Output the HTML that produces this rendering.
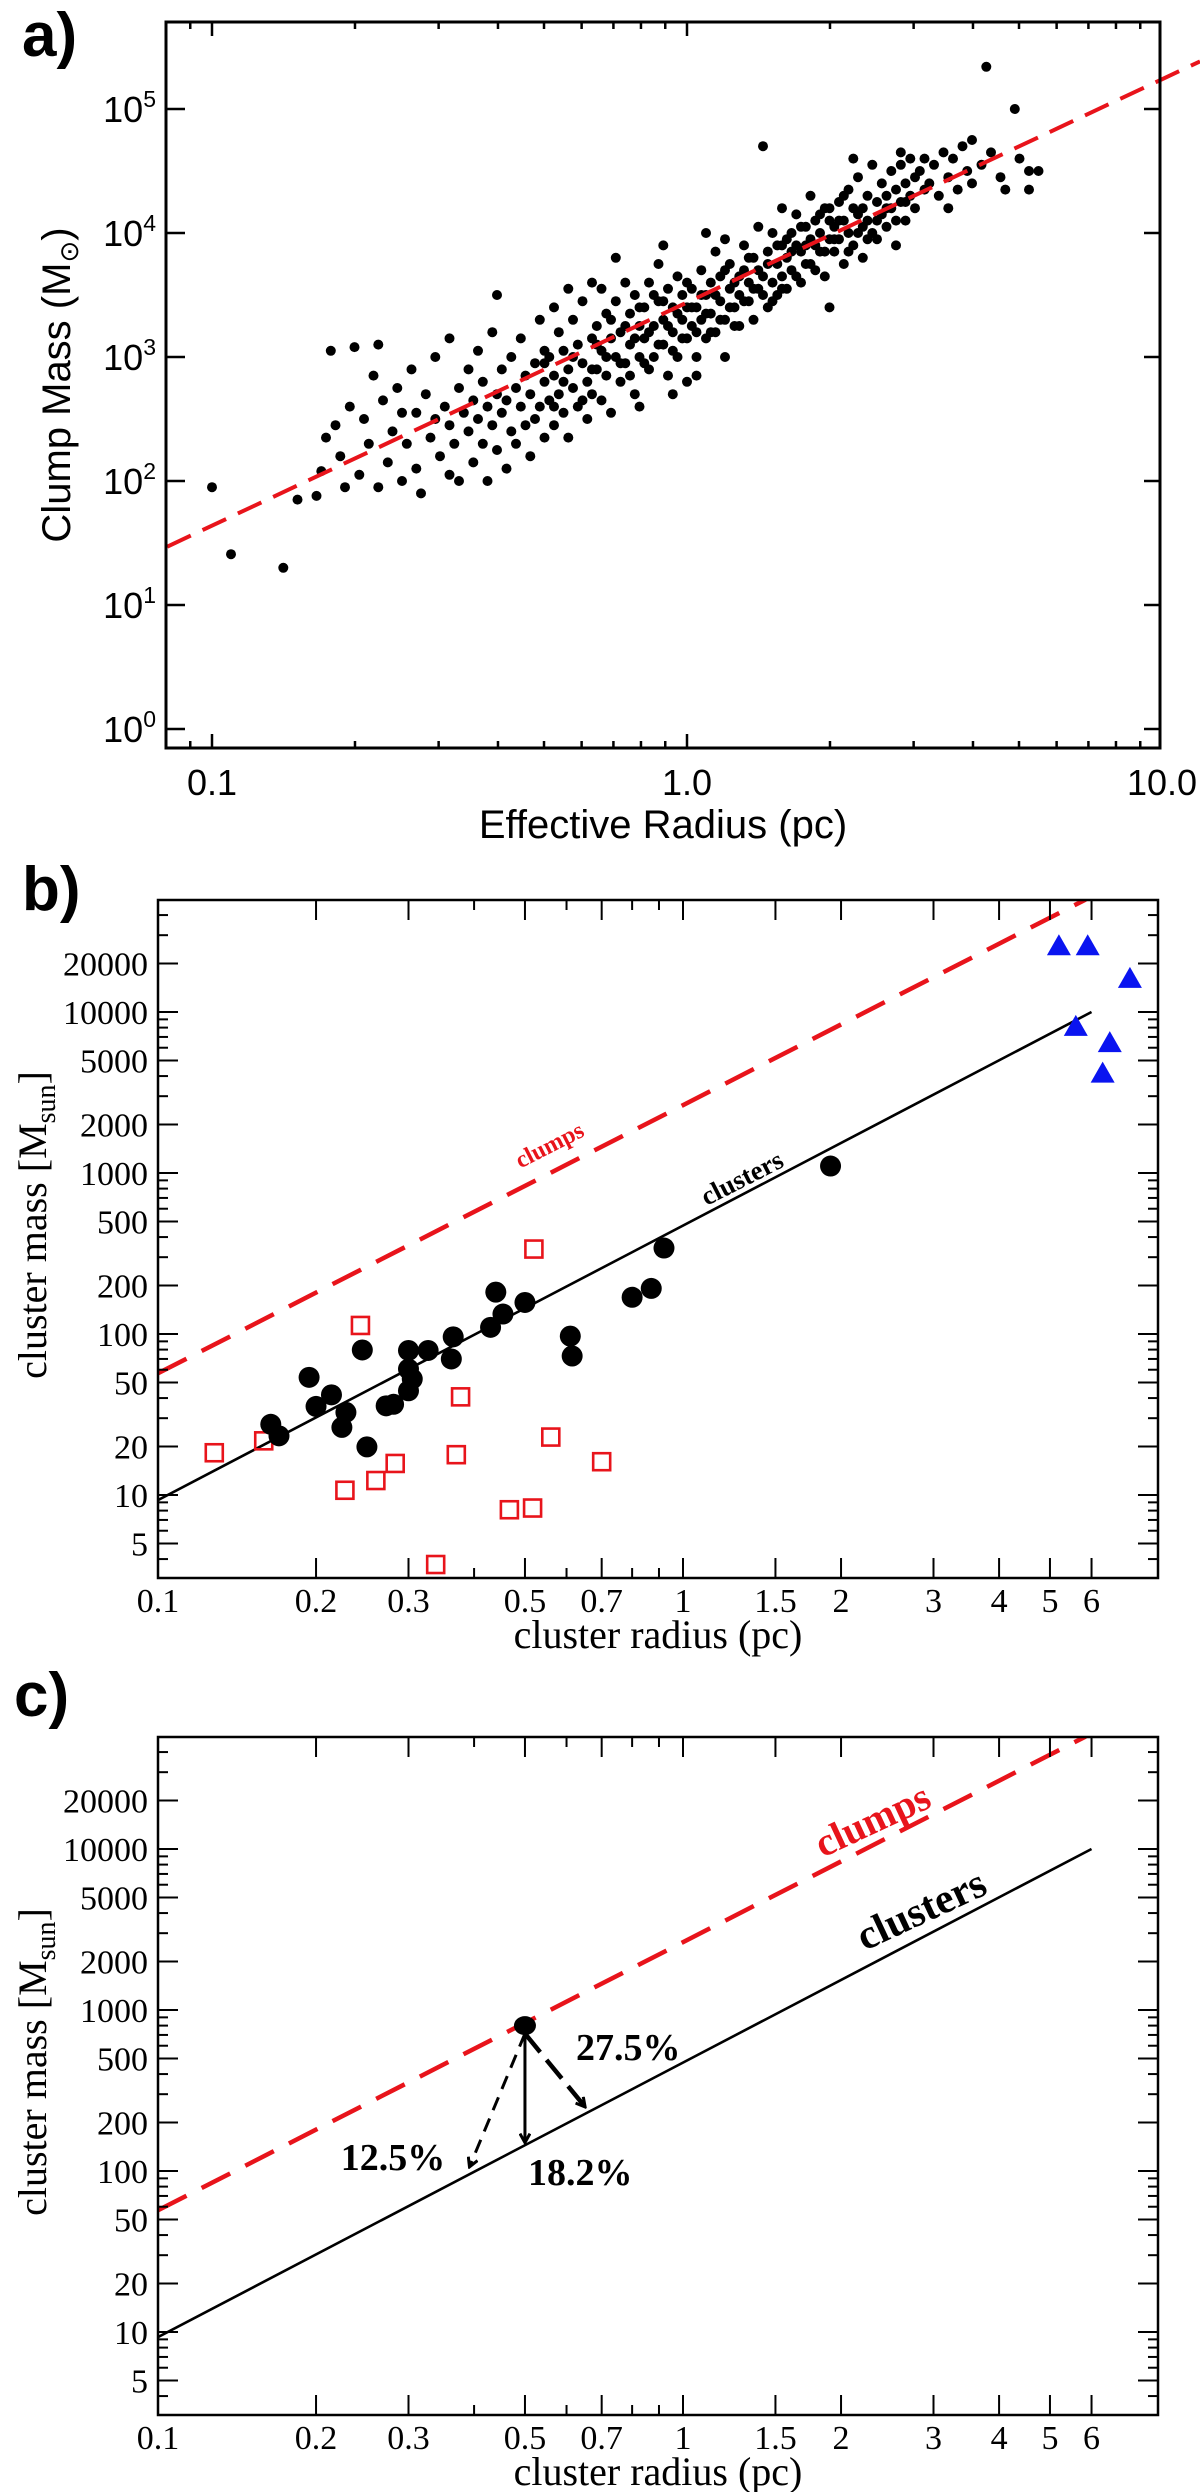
<!DOCTYPE html>
<html><head><meta charset="utf-8"><title>Clump and cluster mass-radius</title>
<style>
html,body{margin:0;padding:0;background:#fff;}
svg{display:block;}
</style></head>
<body>
<svg id="fig" width="1200" height="2492" viewBox="0 0 1200 2492">
  <defs>
    <clipPath id="clipB"><rect x="158" y="900" width="1000" height="678"/></clipPath>
    <clipPath id="clipC"><rect x="158" y="1737" width="1000" height="678"/></clipPath>
    <marker id="headSolid" markerWidth="12" markerHeight="12" refX="10" refY="6" orient="auto" markerUnits="userSpaceOnUse">
      <path d="M1,1 L10,6 L1,11" fill="none" stroke="#000" stroke-width="3"/>
    </marker>
  </defs>
  <rect x="0" y="0" width="1200" height="2492" fill="#fff"/>
</svg>
<script>
// ---------- Panel a data (log10 radius [pc], log10 mass [Msun]) ----------
const clumpLogR = [-1.0,-0.96,-0.85,-0.82,-0.78,-0.77,-0.76,-0.75,-0.74,-0.73,-0.72,-0.71,-0.7,-0.69,-0.68,-0.67,-0.66,-0.65,-0.65,-0.64,-0.63,-0.62,-0.61,-0.6,-0.6,-0.59,-0.58,-0.57,-0.57,-0.56,-0.55,-0.54,-0.53,-0.53,-0.52,-0.51,-0.5,-0.5,-0.5,-0.49,-0.48,-0.48,-0.47,-0.46,-0.46,-0.45,-0.45,-0.44,-0.44,-0.43,-0.43,-0.42,-0.42,-0.41,-0.41,-0.4,-0.4,-0.4,-0.39,-0.39,-0.38,-0.38,-0.37,-0.37,-0.36,-0.36,-0.35,-0.35,-0.34,-0.34,-0.33,-0.33,-0.32,-0.32,-0.31,-0.31,-0.3,-0.3,-0.3,-0.29,-0.29,-0.28,-0.28,-0.27,-0.27,-0.26,-0.26,-0.25,-0.25,-0.24,-0.24,-0.23,-0.23,-0.22,-0.22,-0.21,-0.21,-0.2,-0.2,-0.2,-0.25,-0.28,-0.19,-0.19,-0.18,-0.18,-0.17,-0.17,-0.16,-0.16,-0.15,-0.15,-0.14,-0.14,-0.13,-0.13,-0.12,-0.12,-0.11,-0.11,-0.1,-0.1,-0.1,-0.15,-0.18,-0.09,-0.09,-0.08,-0.08,-0.07,-0.07,-0.06,-0.06,-0.05,-0.05,-0.04,-0.04,-0.03,-0.03,-0.02,-0.02,-0.01,-0.01,0,0,0,-0.05,-0.03,0.01,0.01,0.02,0.02,0.03,0.03,0.04,0.04,0.05,0.05,0.06,0.06,0.07,0.07,0.08,0.08,0.09,0.09,0.1,0.1,0.04,0.08,0.02,0.11,0.11,0.12,0.12,0.13,0.13,0.14,0.14,0.15,0.15,0.16,0.16,0.17,0.17,0.18,0.18,0.19,0.19,0.2,0.2,0.2,0.21,0.21,0.22,0.22,0.23,0.23,0.24,0.24,0.25,0.25,0.26,0.26,0.27,0.27,0.28,0.28,0.29,0.29,0.3,0.3,0.3,0.31,0.31,0.32,0.32,0.33,0.33,0.34,0.34,0.35,0.35,0.36,0.36,0.37,0.37,0.38,0.38,0.39,0.39,0.4,0.4,0.35,0.41,0.41,0.42,0.42,0.43,0.43,0.44,0.44,0.45,0.45,0.46,0.46,0.47,0.47,0.48,0.48,0.49,0.5,0.5,0.45,0.51,0.52,0.53,0.54,0.55,0.56,0.57,0.58,0.59,0.6,0.6,0.55,0.62,0.63,0.64,0.66,0.67,0.69,0.7,0.72,0.72,0.74,
-0.3,-0.28,-0.26,-0.24,-0.22,-0.2,-0.19,-0.17,-0.16,-0.14,-0.13,-0.12,-0.11,-0.1,-0.09,-0.08,-0.07,-0.06,-0.05,-0.04,-0.03,-0.02,-0.01,0,0.01,0.02,0.03,0.04,0.05,0.06,0.07,0.08,0.09,0.1,0.11,0.12,0.13,0.14,0.15,0.16,0.17,0.18,0.19,0.2,0.21,0.22,0.23,0.24,0.25,0.26,0.27,0.28,0.29,0.3,0.31,0.32,0.33,0.34,0.36,0.37,0.38,0.4,0.42,0.44,0.46];
const clumpLogM = [1.95,1.41,1.30,1.85,1.88,2.08,2.35,3.05,2.45,2.2,1.95,2.6,3.08,2.05,2.5,2.3,2.85,1.95,3.1,2.65,2.15,2.4,2.75,2.0,2.55,2.3,2.9,2.1,2.55,1.9,2.7,2.35,2.5,3.0,2.2,2.6,2.45,2.05,3.15,2.3,2.75,2.0,2.55,2.9,2.4,2.15,2.65,3.05,2.5,2.3,2.8,2.0,2.6,2.45,3.2,2.7,2.25,3.5,2.55,2.9,2.1,2.65,2.4,3.0,2.75,2.3,2.6,3.15,2.45,2.85,2.2,2.7,2.95,2.5,3.3,2.6,2.8,2.35,3.05,2.65,3.0,2.45,2.85,3.2,2.7,2.55,3.05,2.9,2.35,3.3,2.75,3.1,2.6,2.95,3.45,2.8,2.5,3.15,2.7,3.6,3.55,3.4,2.9,3.25,2.65,3.05,3.35,2.85,3.15,2.55,3.0,3.45,2.8,3.2,3.6,2.95,3.1,3.35,2.7,3.5,3.0,3.25,2.6,3.8,3.55,3.15,3.4,2.9,3.6,3.25,3.0,3.45,3.75,3.1,3.3,2.85,3.55,3.2,3.4,3.0,3.65,3.3,3.5,3.15,3.4,2.8,3.9,2.7,3.25,3.55,3.4,3.0,3.7,3.3,3.5,3.15,3.6,3.35,3.85,3.2,3.45,3.65,3.3,3.0,3.55,3.75,3.4,3.6,4.0,3.95,2.85,3.5,3.25,3.7,3.9,3.45,3.6,3.3,3.8,3.55,4.05,4.7,3.65,3.4,3.85,3.6,4.0,3.75,3.5,3.9,3.65,4.2,3.8,3.55,4.0,3.7,3.9,4.15,3.6,3.85,4.05,3.75,3.95,4.3,3.7,4.1,3.85,4.0,4.2,3.65,3.95,4.1,3.4,4.05,3.85,4.25,3.95,4.1,3.75,4.35,4.0,4.2,3.9,4.15,4.45,4.05,3.8,4.3,4.1,4.0,4.55,4.25,3.95,4.6,4.15,4.4,4.3,4.05,4.5,4.2,4.35,3.9,4.25,4.55,4.4,4.1,4.6,4.3,4.45,4.2,4.5,4.35,4.6,4.65,4.4,4.55,4.3,4.65,4.45,4.6,4.35,4.7,4.5,4.4,4.75,4.2,4.55,5.34,4.65,4.45,4.35,5.0,4.6,4.5,4.35,4.5,
2.95,2.6,2.8,3.0,2.65,2.9,3.1,3.0,3.3,2.95,3.25,2.85,3.15,3.4,2.95,3.2,3.5,3.1,3.45,3.25,3.05,3.35,3.15,3.6,3.4,3.2,3.5,3.35,3.2,3.5,3.3,3.7,3.4,3.25,3.65,3.45,3.8,3.55,3.7,3.5,3.75,3.45,3.9,3.55,3.95,3.85,3.65,4.05,3.9,3.75,3.9,4.15,3.85,4.2,3.95,4.1,4.3,3.85,4.0,4.2,3.95,4.1,4.2,4.1,4.25];
const clumpFitA = [3.44, 1.8];          // log M = a + b log R
const xTicksA = [0.1, 1, 10];
const xTickLabelsA = ['0.1', '1.0', '10.0'];
const yTicksA = [0, 1, 2, 3, 4, 5];

// ---------- Panel b data ----------
const clusterR = [0.164,0.17,0.194,0.2,0.214,0.228,0.224,0.25,0.245,0.272,0.281,0.3,0.3,0.305,0.3,0.327,0.362,0.365,0.43,0.454,0.44,0.5,0.61,0.615,0.8,0.87,0.92,1.91];
const clusterM = [27.5,23.3,53.8,35.5,41.9,32.6,26.3,19.9,79.6,35.8,36.6,79,60.6,52.6,44.4,79,70,96,110,133,182,157,97,73,169,192,342,1105];
const clumpSqR = [0.128,0.159,0.243,0.227,0.26,0.283,0.37,0.377,0.52,0.467,0.517,0.56,0.7,0.338];
const clumpSqM = [18.3,21.7,113,10.7,12.3,15.7,17.8,40.7,337,8.1,8.3,22.9,16.1,3.7];
const massiveR = [5.2,5.9,7.1,5.6,6.5,6.3];
const massiveM = [26000,26000,16300,8200,6500,4200];
const clusterLineR = [0.1, 6];
const clusterLineM = [9.3, 10000];
const clumpLineR = [0.1, 5.85];
const clumpLineM = [57, 50000];
const yTickValsBC = [5,10,20,50,100,200,500,1000,2000,5000,10000,20000];
const xTickValsBC = [0.1,0.2,0.3,0.5,0.7,1,1.5,2,3,4,5,6];
const xTickLabelsBC = ['0.1','0.2','0.3','0.5','0.7','1','1.5','2','3','4','5','6'];

// ---------- Panel c data ----------
const exampleR = [0.5];
const exampleM = [800];
const arrowEndR = [0.5, 0.392, 0.651];
const arrowEndM = [150, 106, 250];
const arrowLabels = ['18.2%', '12.5%', '27.5%'];

// ---------- helpers ----------
const svg = document.getElementById('fig');
const NS = svg.namespaceURI;
const L = Math.log10;
function mk(tag, attrs, parent) {
  const e = document.createElementNS(NS, tag);
  for (const k in attrs) e.setAttribute(k, attrs[k]);
  (parent || svg).appendChild(e);
  return e;
}
const SANS = '"Liberation Sans", "DejaVu Sans", sans-serif';
const SERIF = '"Liberation Serif", "DejaVu Serif", serif';

const xA = r => 212 + 475 * (L(r) + 1);
const yA = m => 729 - 124 * L(m);
const xBC = r => 158 + 525 * (L(r) + 1);
const yB = m => 1495 - 161 * (L(m) - 1);
const yC = m => 1495 + 837 - 161 * (L(m) - 1);

// ================= PANEL A =================
const gA = mk('g', {});



const lblA = mk('text', {x: 22, y: 56, 'font-family': SANS, 'font-size': 62, 'font-weight': 'bold'}, gA);
lblA.textContent = 'a)';



const pointsA = mk('g', {fill: '#000'}, gA);


for (let i = 0; i < clumpLogR.length; i++) {
  const c = mk('circle', {cx: xA(Math.pow(10, clumpLogR[i])).toFixed(1), cy: yA(Math.pow(10, clumpLogM[i])).toFixed(1), r: 5}, pointsA);
  
  
}
{
  const r0 = 0.0805, r1 = Math.pow(10, (1200 - 212) / 475 - 1);
  const fit = mk('line', {x1: xA(r0), y1: yA(Math.pow(10, clumpFitA[0] + clumpFitA[1] * L(r0))), x2: xA(r1), y2: yA(Math.pow(10, clumpFitA[0] + clumpFitA[1] * L(r1))), stroke: '#e8141b', 'stroke-width': 4, 'stroke-dasharray': '26 13'}, gA);
  
  
}
const frameA = mk('rect', {x: 166, y: 22, width: 994, height: 726, fill: 'none', stroke: '#000', 'stroke-width': 3}, gA);



const ticksA = mk('g', {stroke: '#000', 'stroke-width': 2.5}, gA);


for (let d = -2; d <= 0; d++) {
  for (let k = 1; k <= 9; k++) {
    const r = k * Math.pow(10, d);
    const x = xA(r);
    if (x < 167 || x > 1159) continue;
    const len = k === 1 ? 14 : 7;
    const t1 = mk('line', {x1: x, y1: 748, x2: x, y2: 748 - len}, ticksA);
    
    
    const t2 = mk('line', {x1: x, y1: 22, x2: x, y2: 22 + len}, ticksA);
    
    
  }
}
for (let i = 0; i < yTicksA.length; i++) {
  const y = yA(Math.pow(10, yTicksA[i]));
  const t1 = mk('line', {x1: 166, y1: y, x2: 185, y2: y}, ticksA);
  
  
  const t2 = mk('line', {x1: 1160, y1: y, x2: 1144, y2: y}, ticksA);
  
  
  const tl = mk('text', {x: 156, y: y + 13, 'text-anchor': 'end', 'font-family': SANS, 'font-size': 36}, gA);
  
  
  tl.appendChild(document.createTextNode('10'));
  const sup = mk('tspan', {dy: -15, 'font-size': 23}, tl);
  sup.textContent = String(yTicksA[i]);
}
for (let i = 0; i < xTicksA.length; i++) {
  const tl = mk('text', {x: xA(xTicksA[i]), y: 795, 'text-anchor': 'middle', 'font-family': SANS, 'font-size': 36}, gA);
  tl.textContent = xTickLabelsA[i];
  
  
}
const xtA = mk('text', {x: 663, y: 838, 'text-anchor': 'middle', 'font-family': SANS, 'font-size': 40}, gA);
xtA.textContent = 'Effective Radius (pc)';


const ytA = mk('text', {x: 0, y: 0, 'text-anchor': 'middle', 'font-family': SANS, 'font-size': 40, transform: 'translate(70,385) rotate(-90)'}, gA);


ytA.appendChild(document.createTextNode('Clump Mass (M'));
const sunSub = mk('tspan', {dy: 8, 'font-size': 26}, ytA);
sunSub.textContent = '\u2299';
const sunClose = mk('tspan', {dy: -8}, ytA);
sunClose.textContent = ')';

// ================= shared frame for B and C =================
function drawFrameBC(g, yf, top, suffix) {
  const bottom = top + 678;
  const fr = mk('rect', {x: 158, y: top, width: 1000, height: 678, fill: 'none', stroke: '#000', 'stroke-width': 2.5}, g);
  
  
  const tg = mk('g', {stroke: '#000', 'stroke-width': 2}, g);
  
  
  for (let d = 0; d <= 4; d++) {
    for (let k = 1; k <= 9; k++) {
      const m = k * Math.pow(10, d);
      const y = yf(m);
      if (y < top + 2 || y > bottom - 2) continue;
      const major = (k === 1 || k === 2 || k === 5);
      const len = major ? 20 : 10;
      const a = mk('line', {x1: 158, y1: y, x2: 158 + len, y2: y}, tg);
      
      
      const b = mk('line', {x1: 1158, y1: y, x2: 1158 - len, y2: y}, tg);
      
      
    }
  }
  const minorX = [0.4, 0.6, 0.8, 0.9];
  for (let i = 1; i < xTickValsBC.length; i++) {
    const x = xBC(xTickValsBC[i]);
    const a = mk('line', {x1: x, y1: bottom, x2: x, y2: bottom - 20}, tg);
    
    
    const b = mk('line', {x1: x, y1: top, x2: x, y2: top + 20}, tg);
    
    
  }
  for (const v of minorX) {
    const x = xBC(v);
    const a = mk('line', {x1: x, y1: bottom, x2: x, y2: bottom - 10}, tg);
    
    
    const b = mk('line', {x1: x, y1: top, x2: x, y2: top + 10}, tg);
    
    
  }
  for (const v of yTickValsBC) {
    const t = mk('text', {x: 148, y: yf(v) + 12, 'text-anchor': 'end', 'font-family': SERIF, 'font-size': 34}, g);
    t.textContent = String(v);
    
    
  }
  for (let i = 0; i < xTickValsBC.length; i++) {
    const t = mk('text', {x: xBC(xTickValsBC[i]), y: bottom + 34, 'text-anchor': 'middle', 'font-family': SERIF, 'font-size': 34}, g);
    t.textContent = xTickLabelsBC[i];
    
    
  }
  const xt = mk('text', {x: 658, y: bottom + 70, 'text-anchor': 'middle', 'font-family': SERIF, 'font-size': 40}, g);
  xt.textContent = 'cluster radius (pc)';
  
  
  const yt = mk('text', {x: 0, y: 0, 'text-anchor': 'middle', 'font-family': SERIF, 'font-size': 40, transform: 'translate(46,' + (top + 325) + ') rotate(-90)'}, g);
  
  
  yt.appendChild(document.createTextNode('cluster mass [M'));
  const sub = mk('tspan', {dy: 9, 'font-size': 28}, yt);
  sub.textContent = 'sun';
  const close = mk('tspan', {dy: -9}, yt);
  close.textContent = ']';
}
function drawLines(g, yf, clipId) {
  const lg = mk('g', {'clip-path': 'url(#' + clipId + ')'}, g);
  
  
  const red = mk('line', {x1: xBC(clumpLineR[0]), y1: yf(clumpLineM[0]), x2: xBC(clumpLineR[1]), y2: yf(clumpLineM[1]), stroke: '#e8141b', 'stroke-width': 4.5, 'stroke-dasharray': '32 17'}, lg);
  
  
  const blk = mk('line', {x1: xBC(clusterLineR[0]), y1: yf(clusterLineM[0]), x2: xBC(clusterLineR[1]), y2: yf(clusterLineM[1]), stroke: '#000', 'stroke-width': 2.6}, lg);
  
  
}

// ================= PANEL B =================
const gB = mk('g', {});


const lblB = mk('text', {x: 22, y: 910, 'font-family': SANS, 'font-size': 62, 'font-weight': 'bold'}, gB);
lblB.textContent = 'b)';


drawLines(gB, yB, 'clipB');
const cpB = mk('text', {x: 0, y: 0, 'text-anchor': 'middle', 'font-family': SERIF, 'font-size': 24, 'font-weight': 'bold', fill: '#e8141b', transform: 'translate(553,1152) rotate(-27)'}, gB);
cpB.textContent = 'clumps';


const clB = mk('text', {x: 0, y: 0, 'text-anchor': 'middle', 'font-family': SERIF, 'font-size': 27, 'font-weight': 'bold', fill: '#000', transform: 'translate(746,1186) rotate(-27)'}, gB);
clB.textContent = 'clusters';



const sqG = mk('g', {fill: 'none', stroke: '#e8141b', 'stroke-width': 2.6}, gB);


for (let i = 0; i < clumpSqR.length; i++) {
  const s = mk('rect', {x: xBC(clumpSqR[i]) - 8.5, y: yB(clumpSqM[i]) - 8.5, width: 17, height: 17}, sqG);
  
  
}
const ciG = mk('g', {fill: '#000'}, gB);


for (let i = 0; i < clusterR.length; i++) {
  const c = mk('circle', {cx: xBC(clusterR[i]), cy: yB(clusterM[i]), r: 10.5}, ciG);
  
  
}
const trG = mk('g', {fill: '#0a14f0'}, gB);


for (let i = 0; i < massiveR.length; i++) {
  const x = xBC(massiveR[i]), y = yB(massiveM[i]);
  const t = mk('polygon', {points: (x - 12) + ',' + (y + 10) + ' ' + (x + 12) + ',' + (y + 10) + ' ' + x + ',' + (y - 11)}, trG);
  
  
}
drawFrameBC(gB, yB, 900, 'b');

// ================= PANEL C =================
const gC = mk('g', {});


const lblC = mk('text', {x: 14, y: 1716, 'font-family': SANS, 'font-size': 62, 'font-weight': 'bold'}, gC);
lblC.textContent = 'c)';


drawLines(gC, yC, 'clipC');
const cpC = mk('text', {x: 0, y: 0, 'text-anchor': 'middle', 'font-family': SERIF, 'font-size': 40, 'font-weight': 'bold', fill: '#e8141b', transform: 'translate(878,1832) rotate(-25)'}, gC);
cpC.textContent = 'clumps';


const clC = mk('text', {x: 0, y: 0, 'text-anchor': 'middle', 'font-family': SERIF, 'font-size': 42, 'font-weight': 'bold', fill: '#000', transform: 'translate(927,1922) rotate(-25)'}, gC);
clC.textContent = 'clusters';



const arG = mk('g', {stroke: '#000', fill: 'none'}, gC);


const x0 = xBC(exampleR[0]), y0 = yC(exampleM[0]);
const arrowStyles = [
  {w: 3, dash: null},
  {w: 3, dash: '14 9'},
  {w: 4.5, dash: '24 10'}
];
const arrowNames = ['arrow-18-2', 'arrow-12-5', 'arrow-27-5'];
for (let i = 0; i < arrowEndR.length; i++) {
  const x1 = xBC(arrowEndR[i]), y1 = yC(arrowEndM[i]);
  const a = {x1: x0, y1: y0 + 8, x2: x1, y2: y1, 'stroke-width': arrowStyles[i].w, 'marker-end': 'url(#headSolid)'};
  if (arrowStyles[i].dash) a['stroke-dasharray'] = arrowStyles[i].dash;
  const ln = mk('line', a, arG);
  
  
}
const dot = mk('ellipse', {cx: x0, cy: y0, rx: 11, ry: 9.5, fill: '#000'}, gC);


const labelPos = [[528, 2185, 'start'], [393, 2170, 'middle'], [576, 2060, 'start']];
const labelNames = ['label-18-2', 'label-12-5', 'label-27-5'];
for (let i = 0; i < arrowLabels.length; i++) {
  const t = mk('text', {x: labelPos[i][0], y: labelPos[i][1], 'text-anchor': labelPos[i][2], 'font-family': SERIF, 'font-size': 38, 'font-weight': 'bold'}, gC);
  t.textContent = arrowLabels[i];
  
  
}
drawFrameBC(gC, yC, 1737, 'c');
</script>
</body></html>
